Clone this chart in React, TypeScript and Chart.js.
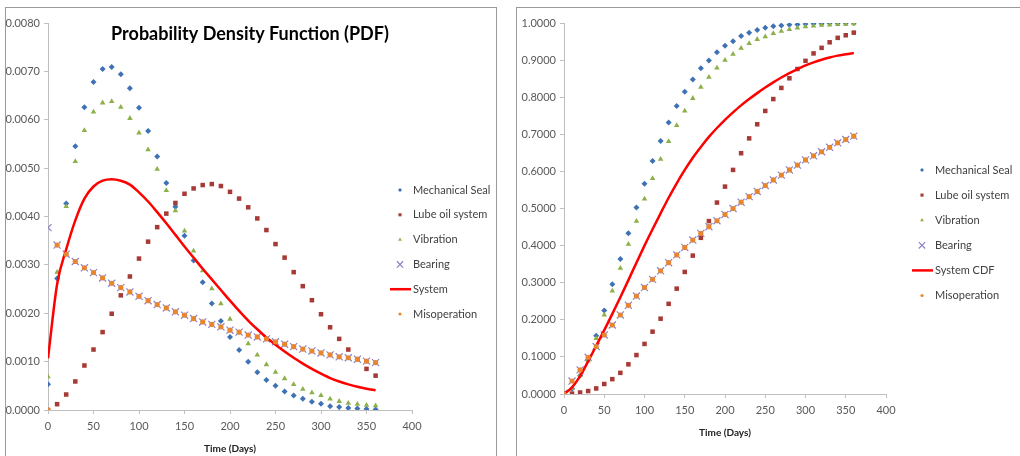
import React, { useEffect, useRef } from 'react';
import { Chart, registerables } from 'chart.js';
import { drawPoint } from 'chart.js/helpers';

Chart.register(...registerables);

// ---------- data ----------
const days = [0, 10, 20, 30, 40, 50, 60, 70, 80, 90, 100, 110, 120, 130, 140, 150, 160, 170, 180, 190, 200, 210, 220, 230, 240, 250, 260, 270, 280, 290, 300, 310, 320, 330, 340, 350, 360];

// PDF
const mechSealPdf = [0.00053, 0.00272, 0.00427, 0.00545, 0.00626, 0.00678, 0.00705, 0.00709, 0.00694, 0.00665, 0.00625, 0.00577, 0.00524, 0.00469, 0.0042, 0.0036, 0.00309, 0.00264, 0.0022, 0.00184, 0.00151, 0.00124, 0.001, 0.00078, 0.00062, 0.0005, 0.00038, 0.0003, 0.00023, 0.00017, 0.00013, 0.00008, 0.00006, 0.00004, 0.00003, 0.00002, 0.00001];
const lubeOilPdf = [0.0, 0.00012, 0.00032, 0.00059, 0.00092, 0.00125, 0.00161, 0.00199, 0.00237, 0.00276, 0.00313, 0.00348, 0.00378, 0.00406, 0.00428, 0.00447, 0.00458, 0.00465, 0.00467, 0.00463, 0.00451, 0.00437, 0.00419, 0.00396, 0.00372, 0.00343, 0.00315, 0.00285, 0.00256, 0.00227, 0.00198, 0.00171, 0.00147, 0.00125, 0.00105, 0.00085, 0.00071];
const vibrationPdf = [0.00069, 0.00285, 0.00421, 0.00514, 0.00578, 0.00616, 0.00635, 0.00638, 0.00626, 0.00603, 0.00573, 0.00538, 0.00498, 0.00454, 0.00412, 0.0037, 0.00329, 0.00288, 0.00251, 0.0022, 0.00188, 0.0016, 0.00137, 0.00114, 0.00094, 0.00078, 0.00065, 0.00053, 0.00043, 0.00036, 0.0003, 0.00023, 0.00018, 0.00014, 0.00012, 0.0001, 0.00009];
const bearingPdf = [0.00377, 0.00341, 0.00322, 0.00307, 0.00294, 0.00284, 0.00273, 0.00262, 0.00253, 0.00244, 0.00235, 0.00226, 0.00218, 0.00211, 0.00203, 0.00196, 0.00189, 0.00182, 0.00177, 0.00172, 0.00165, 0.00161, 0.00155, 0.00151, 0.00147, 0.00141, 0.00136, 0.00131, 0.00126, 0.00122, 0.00118, 0.00114, 0.0011, 0.00108, 0.00105, 0.00101, 0.00098];
const systemPdf = [0.00107, 0.0026, 0.00332, 0.00392, 0.00437, 0.00462, 0.00474, 0.00477, 0.00474, 0.00466, 0.0045, 0.00431, 0.00409, 0.00386, 0.00362, 0.00338, 0.00315, 0.00292, 0.0027, 0.00248, 0.00226, 0.00205, 0.00185, 0.00167, 0.0015, 0.00135, 0.00121, 0.00108, 0.00096, 0.00085, 0.00075, 0.00066, 0.00059, 0.00053, 0.00048, 0.00044, 0.00041];
const misoperationPdf = [0.0, 0.00341, 0.00322, 0.00307, 0.00294, 0.00284, 0.00273, 0.00262, 0.00253, 0.00244, 0.00235, 0.00226, 0.00218, 0.00211, 0.00203, 0.00196, 0.00189, 0.00182, 0.00177, 0.00172, 0.00165, 0.00161, 0.00155, 0.00151, 0.00147, 0.00141, 0.00136, 0.00131, 0.00126, 0.00122, 0.00118, 0.00114, 0.0011, 0.00108, 0.00105, 0.00101, 0.00098];

// CDF
const mechSealCdf = [0.0, 0.014, 0.05, 0.093, 0.157, 0.225, 0.296, 0.364, 0.433, 0.503, 0.567, 0.628, 0.682, 0.732, 0.776, 0.815, 0.848, 0.878, 0.899, 0.921, 0.939, 0.951, 0.965, 0.974, 0.981, 0.987, 0.991, 0.993, 0.995, 0.996, 0.997, 0.998, 0.998, 0.999, 0.999, 0.999, 1.0];
const lubeOilCdf = [0.0, 0.001, 0.004, 0.008, 0.015, 0.027, 0.04, 0.057, 0.08, 0.105, 0.135, 0.168, 0.203, 0.243, 0.284, 0.329, 0.373, 0.421, 0.466, 0.516, 0.559, 0.604, 0.649, 0.689, 0.727, 0.763, 0.795, 0.825, 0.851, 0.876, 0.898, 0.918, 0.933, 0.948, 0.96, 0.967, 0.974];
const vibrationCdf = [0.0, 0.015, 0.051, 0.09, 0.15, 0.213, 0.278, 0.339, 0.404, 0.466, 0.526, 0.581, 0.633, 0.681, 0.724, 0.763, 0.797, 0.827, 0.854, 0.879, 0.9, 0.916, 0.932, 0.945, 0.956, 0.963, 0.972, 0.978, 0.983, 0.987, 0.99, 0.992, 0.994, 0.995, 0.996, 0.997, 0.998];
const bearingCdf = [0.002, 0.035, 0.065, 0.099, 0.128, 0.159, 0.186, 0.213, 0.239, 0.264, 0.287, 0.309, 0.332, 0.354, 0.375, 0.395, 0.415, 0.433, 0.451, 0.467, 0.484, 0.5, 0.517, 0.532, 0.546, 0.562, 0.577, 0.59, 0.604, 0.617, 0.631, 0.642, 0.653, 0.665, 0.677, 0.686, 0.695];
const systemCdf = [0.0, 0.018, 0.048, 0.088, 0.13, 0.172, 0.216, 0.261, 0.307, 0.354, 0.4, 0.444, 0.487, 0.529, 0.568, 0.604, 0.637, 0.666, 0.693, 0.717, 0.739, 0.759, 0.778, 0.795, 0.811, 0.826, 0.84, 0.853, 0.865, 0.876, 0.886, 0.894, 0.901, 0.907, 0.912, 0.916, 0.919];
const misoperationCdf = [0.0, 0.035, 0.065, 0.099, 0.128, 0.159, 0.186, 0.213, 0.239, 0.264, 0.287, 0.309, 0.332, 0.354, 0.375, 0.395, 0.415, 0.433, 0.451, 0.467, 0.484, 0.5, 0.517, 0.532, 0.546, 0.562, 0.577, 0.59, 0.604, 0.617, 0.631, 0.642, 0.653, 0.665, 0.677, 0.686, 0.695];

const xTicksMax = 400;
const pdfTitle = 'Probability Density Function (PDF)';
const xAxisTitle = 'Time (Days)';

// ---------- styles ----------
const FONT = 'Lato, "Open Sans", sans-serif';
const C_BLUE = '#3F72B5';
const C_RED = '#A63A36';
const C_GREEN = '#8DB04A';
const C_PURPLE = '#8E82C6';
const C_ORANGE = '#E8852F';
const C_LINE = '#FF0000';

type Series = { label: string; values: number[]; kind: 'mech' | 'lube' | 'vib' | 'bear' | 'sys' | 'mis' };

const styleFor = (kind: string) => {
  switch (kind) {
    case 'mech': return { pointStyle: 'rectRot', radius: 3, color: C_BLUE, borderWidth: 0, order: 6 };
    case 'lube': return { pointStyle: 'rect', radius: 3.2, color: C_RED, borderWidth: 0, order: 5 };
    case 'vib': return { pointStyle: 'triangle', radius: 3.2, color: C_GREEN, borderWidth: 0, order: 4 };
    case 'bear': return { pointStyle: 'crossRot', radius: 5, color: C_PURPLE, borderWidth: 1.2, order: 3 };
    case 'mis': return { pointStyle: 'circle', radius: 2.6, color: C_ORANGE, borderWidth: 0, order: 1 };
    default: return { pointStyle: 'line', radius: 0, color: C_LINE, borderWidth: 2.5, order: 2 };
  }
};

function buildDatasets(series: Series[]) {
  return series.map((s) => {
    const st = styleFor(s.kind);
    const data = days.map((d, i) => ({ x: d, y: s.values[i] }));
    if (s.kind === 'sys') {
      return {
        label: s.label, data, showLine: true, borderColor: C_LINE, borderWidth: 2.5,
        pointRadius: 0, cubicInterpolationMode: 'monotone', fill: false, order: st.order,
      };
    }
    return {
      label: s.label, data, showLine: false,
      pointStyle: st.pointStyle, pointRadius: st.radius,
      backgroundColor: st.color, borderColor: st.color, pointBorderWidth: st.borderWidth,
      order: st.order,
    };
  });
}

function legendPlugin(series: Series[], markerX: number, textX: number, y0: number, dy: number, title?: { text: string; x: number; y: number }) {
  return {
    id: 'customLegend',
    afterDraw(chart: any) {
      const ctx = chart.ctx;
      ctx.save();
      series.forEach((s, i) => {
        const y = y0 + i * dy;
        const st = styleFor(s.kind);
        if (s.kind === 'sys') {
          ctx.strokeStyle = C_LINE;
          ctx.lineWidth = 2.5;
          ctx.beginPath();
          ctx.moveTo(markerX - 10, y);
          ctx.lineTo(markerX + 11, y);
          ctx.stroke();
        } else {
          ctx.fillStyle = st.color;
          ctx.strokeStyle = st.color;
          ctx.lineWidth = st.borderWidth;
          const r = s.kind === 'bear' ? 4.5 : Math.max(1.6, st.radius - 1);
          drawPoint(ctx, { pointStyle: st.pointStyle, radius: r, rotation: 0, borderWidth: st.borderWidth }, markerX, y);
        }
        ctx.fillStyle = '#404040';
        ctx.font = `11px ${FONT}`;
        ctx.textAlign = 'left';
        ctx.textBaseline = 'middle';
        ctx.fillText(s.label, textX, y);
      });
      if (title) {
        ctx.fillStyle = '#000';
        ctx.font = `bold 18px ${FONT}`;
        ctx.textAlign = 'center';
        ctx.textBaseline = 'middle';
        ctx.fillText(title.text, title.x, title.y);
      }
      ctx.restore();
    },
  };
}

function axisOpts(min: number, max: number, step: number, decimals: number | null, fitSize: number, isX: boolean) {
  return {
    type: 'linear',
    min, max,
    ticks: {
      stepSize: step,
      color: '#595959',
      font: { family: FONT, size: 11 },
      padding: isX ? 6 : 4,
      callback: (v: any) => (decimals === null ? String(v) : Number(v).toFixed(decimals)),
    },
    grid: { drawOnChartArea: false, drawTicks: true, tickLength: 4, color: '#bfbfbf' },
    border: { color: '#bfbfbf', width: 1 },
    title: isX
      ? { display: true, text: xAxisTitle, color: '#222', font: { family: FONT, size: 10, weight: 'bold' }, padding: { top: 0, bottom: 1 } }
      : { display: false },
    afterFit: (s: any) => {
      if (isX) s.height = fitSize; else s.width = fitSize;
    },
  };
}

function ChartBox(props: {
  left: number; top: number; width: number; height: number;
  series: Series[]; yMax: number; yStep: number; padding: any; yWidth: number; xHeight: number;
  legend: { markerX: number; textX: number; y0: number; dy: number }; title?: { text: string; x: number; y: number };
  boxWidth: number;
}) {
  const ref = useRef<HTMLCanvasElement | null>(null);
  useEffect(() => {
    if (!ref.current) return;
    const chart = new Chart(ref.current, {
      type: 'scatter',
      data: { datasets: buildDatasets(props.series) as any },
      options: {
        responsive: false,
        animation: false,
        devicePixelRatio: 1,
        layout: { padding: props.padding },
        plugins: { legend: { display: false }, tooltip: { enabled: false }, title: { display: false } },
        scales: {
          x: axisOpts(0, xTicksMax, 50, null, props.xHeight, true) as any,
          y: axisOpts(0, props.yMax, props.yStep, 4, props.yWidth, false) as any,
        },
      },
      plugins: [legendPlugin(props.series, props.legend.markerX, props.legend.textX, props.legend.y0, props.legend.dy, props.title)],
    });
    return () => chart.destroy();
  }, []);
  return (
    <div style={{ position: 'absolute', left: props.left, top: props.top, width: props.boxWidth, height: props.height + 20, border: '1px solid #9a9a9a', background: '#fff' }}>
      <canvas ref={ref} width={props.width} height={props.height} style={{ display: 'block', width: props.width, height: props.height }} />
    </div>
  );
}

export default function App() {
  const pdfSeries: Series[] = [
    { label: 'Mechanical Seal', values: mechSealPdf, kind: 'mech' },
    { label: 'Lube oil system', values: lubeOilPdf, kind: 'lube' },
    { label: 'Vibration', values: vibrationPdf, kind: 'vib' },
    { label: 'Bearing', values: bearingPdf, kind: 'bear' },
    { label: 'System', values: systemPdf, kind: 'sys' },
    { label: 'Misoperation', values: misoperationPdf, kind: 'mis' },
  ];
  const cdfSeries: Series[] = [
    { label: 'Mechanical Seal', values: mechSealCdf, kind: 'mech' },
    { label: 'Lube oil system', values: lubeOilCdf, kind: 'lube' },
    { label: 'Vibration', values: vibrationCdf, kind: 'vib' },
    { label: 'Bearing', values: bearingCdf, kind: 'bear' },
    { label: 'System CDF', values: systemCdf, kind: 'sys' },
    { label: 'Misoperation', values: misoperationCdf, kind: 'mis' },
  ];
  return (
    <div style={{ position: 'fixed', left: 0, top: 0, width: 1020, height: 456, overflow: 'hidden', background: '#fff' }}>
      <ChartBox
        left={5} top={7} width={490} height={448} boxWidth={490}
        series={pdfSeries} yMax={0.008} yStep={0.001}
        padding={{ left: 0, top: 15, right: 84, bottom: 0 }} yWidth={42} xHeight={46}
        legend={{ markerX: 394, textX: 407, y0: 182, dy: 24.8 }}
        title={{ text: pdfTitle, x: 244, y: 26 }}
      />
      <ChartBox
        left={516} top={7} width={503} height={448} boxWidth={520}
        series={cdfSeries} yMax={1} yStep={0.1}
        padding={{ left: 0, top: 15, right: 134, bottom: 16 }} yWidth={47} xHeight={46}
        legend={{ markerX: 405, textX: 418, y0: 162, dy: 25.1 }}
      />
    </div>
  );
}
